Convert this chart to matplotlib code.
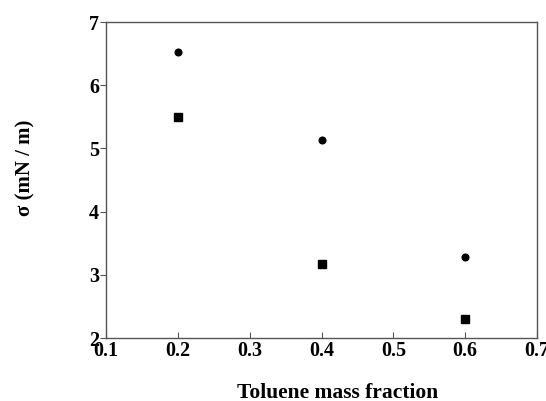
import matplotlib
matplotlib.use('Agg')
import matplotlib.pyplot as plt

# Toluene mass fraction and interfacial tension (mN/m)
x = [0.2, 0.4, 0.6]
sigma_circle = [6.52, 5.14, 3.28]
sigma_square = [5.50, 3.17, 2.30]

xticks = [0.1, 0.2, 0.3, 0.4, 0.5, 0.6, 0.7]
yticks = [2, 3, 4, 5, 6, 7]

plt.rcParams['font.family'] = ['Liberation Serif', 'DejaVu Serif']
plt.rcParams['font.weight'] = 'bold'

fig = plt.figure(figsize=(5.46, 4.01), dpi=100)
ax = fig.add_axes([106 / 546, 1 - 338 / 401, 431 / 546, 316 / 401])

ax.plot(x, sigma_circle, 'ko', markersize=4.8, linestyle='none')
ax.plot(x, sigma_square, 'ks', markersize=5.2, linestyle='none')

ax.set_xlim(0.1, 0.7)
ax.set_ylim(2, 7)
ax.set_xticks(xticks)
ax.set_yticks(yticks)
ax.set_xticklabels(['%.1f' % v for v in xticks], fontsize=14.5, fontweight='bold')
ax.set_yticklabels([str(v) for v in yticks], fontsize=14.5, fontweight='bold')

for s in ax.spines.values():
    s.set_color('#555555')
    s.set_linewidth(1.0)

ax.tick_params(axis='x', direction='in', length=4, pad=2, color='#555555')
ax.tick_params(axis='y', direction='out', length=4, pad=1, color='#555555')

ax.set_xlabel('Toluene mass fraction', fontsize=15.5, fontweight='bold')
ax.set_ylabel('σ (mN / m)', fontsize=15, fontweight='bold')
ax.xaxis.set_label_coords(0.537, -0.142)
ax.yaxis.set_label_coords(-0.163, 0.54)

fig.savefig('out.png', dpi=100)
